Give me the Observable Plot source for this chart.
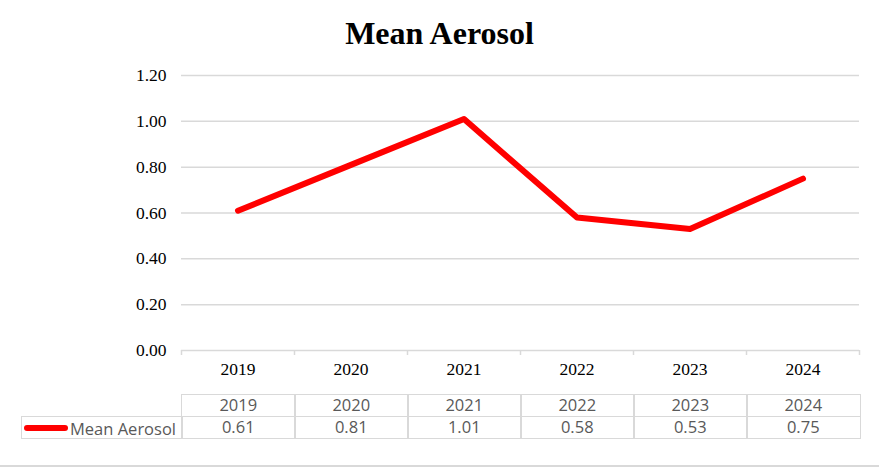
<!DOCTYPE html>
<html>
<head>
<meta charset="utf-8">
<script src="https://cdn.jsdelivr.net/npm/d3@7"></script>
<script src="https://cdn.jsdelivr.net/npm/@observablehq/plot@0.6"></script>
<style>
  body { margin: 0; background: #fff; }
  #wrap { position: relative; width: 879px; height: 468px; overflow: hidden; }
  #title { height: 56px; box-sizing: border-box; padding-top: 16px; line-height: 34px; text-align: center;
           font-family: "Liberation Serif", "Times New Roman", serif; font-weight: bold; font-size: 32px; color: #000; }
  #chart svg text { font-size: 17.5px !important; font-family: "Liberation Serif", "Times New Roman", serif; }
  .cell { position: absolute; box-sizing: border-box; border: 1.5px solid #d9d9d9; height: 23.5px;
          font-family: "Open Sans", "Noto Sans", sans-serif; font-size: 16.5px; color: #595959;
          text-align: center; line-height: 20px; white-space: nowrap; overflow: hidden; }
  #bottomline { position: absolute; left: 0; top: 465px; width: 879px; height: 1.5px; background: #d9d9d9; }
</style>
</head>
<body>
<div id="wrap">
  <div id="title">Mean Aerosol</div>
  <div id="chart"></div>
  <div id="table"></div>
  <div id="bottomline"></div>
</div>
<script>
const years = ["2019", "2020", "2021", "2022", "2023", "2024"];
const values = [0.61, 0.81, 1.01, 0.58, 0.53, 0.75];
const seriesName = "Mean Aerosol";
const yTicks = [0, 0.2, 0.4, 0.6, 0.8, 1.0, 1.2];

const data = years.map((y, i) => ({ year: y, idx: i, value: values[i] }));
const centers = years.map((_, i) => i + 0.5);
const edges = d3.range(years.length + 1);

const plot = Plot.plot({
  width: 879,
  height: 330,
  marginTop: 19,
  marginBottom: 36,
  marginLeft: 181,
  marginRight: 20,
  style: { fontFamily: "'Liberation Serif', 'Times New Roman', serif", fontSize: "17.5px", color: "#000", background: "transparent" },
  x: { type: "linear", domain: [0, years.length] },
  y: { domain: [0, 1.2] },
  marks: [
    Plot.gridY(yTicks, { stroke: "#d9d9d9", strokeOpacity: 1, strokeWidth: 1.5 }),
    Plot.axisX(edges, { tickSize: 5, tickFormat: () => "", stroke: "#d9d9d9", strokeWidth: 1.5, label: null }),
    Plot.axisX(centers, { tickSize: 0, tickPadding: 12, tickFormat: d => years[Math.floor(d)], label: null, fill: "#000" }),
    Plot.axisY(yTicks, { tickSize: 0, tickPadding: 15, tickFormat: d3.format(".2f"), label: null, fill: "#000" }),
    Plot.line(data, { x: d => d.idx + 0.5, y: "value", stroke: "#ff0000", strokeWidth: 6, strokeLinecap: "round", strokeLinejoin: "round" })
  ]
});
document.getElementById("chart").appendChild(plot);

// data table under the chart
const tbl = document.getElementById("table");
const colLeft = 181, colW = 113, top1 = 393.5, rowH = 22;
function cell(left, top, w, text) {
  const d = document.createElement("div");
  d.className = "cell";
  d.style.left = left + "px";
  d.style.top = top + "px";
  d.style.width = (w + 1.5) + "px";
  d.textContent = text;
  tbl.appendChild(d);
  return d;
}
years.forEach((y, i) => cell(colLeft + i * colW, top1, colW, y));
values.forEach((v, i) => cell(colLeft + i * colW, top1 + rowH, colW, d3.format(".2f")(v)));
const leg = cell(21, top1 + rowH, colLeft - 21, "");
leg.style.textAlign = "left";
leg.innerHTML = '<span style="display:inline-block;width:44px;height:6px;border-radius:3px;background:#ff0000;vertical-align:middle;margin-left:2px;margin-right:2px;"></span><span style="vertical-align:middle;">' + seriesName + '</span>';
</script>
</body>
</html>
